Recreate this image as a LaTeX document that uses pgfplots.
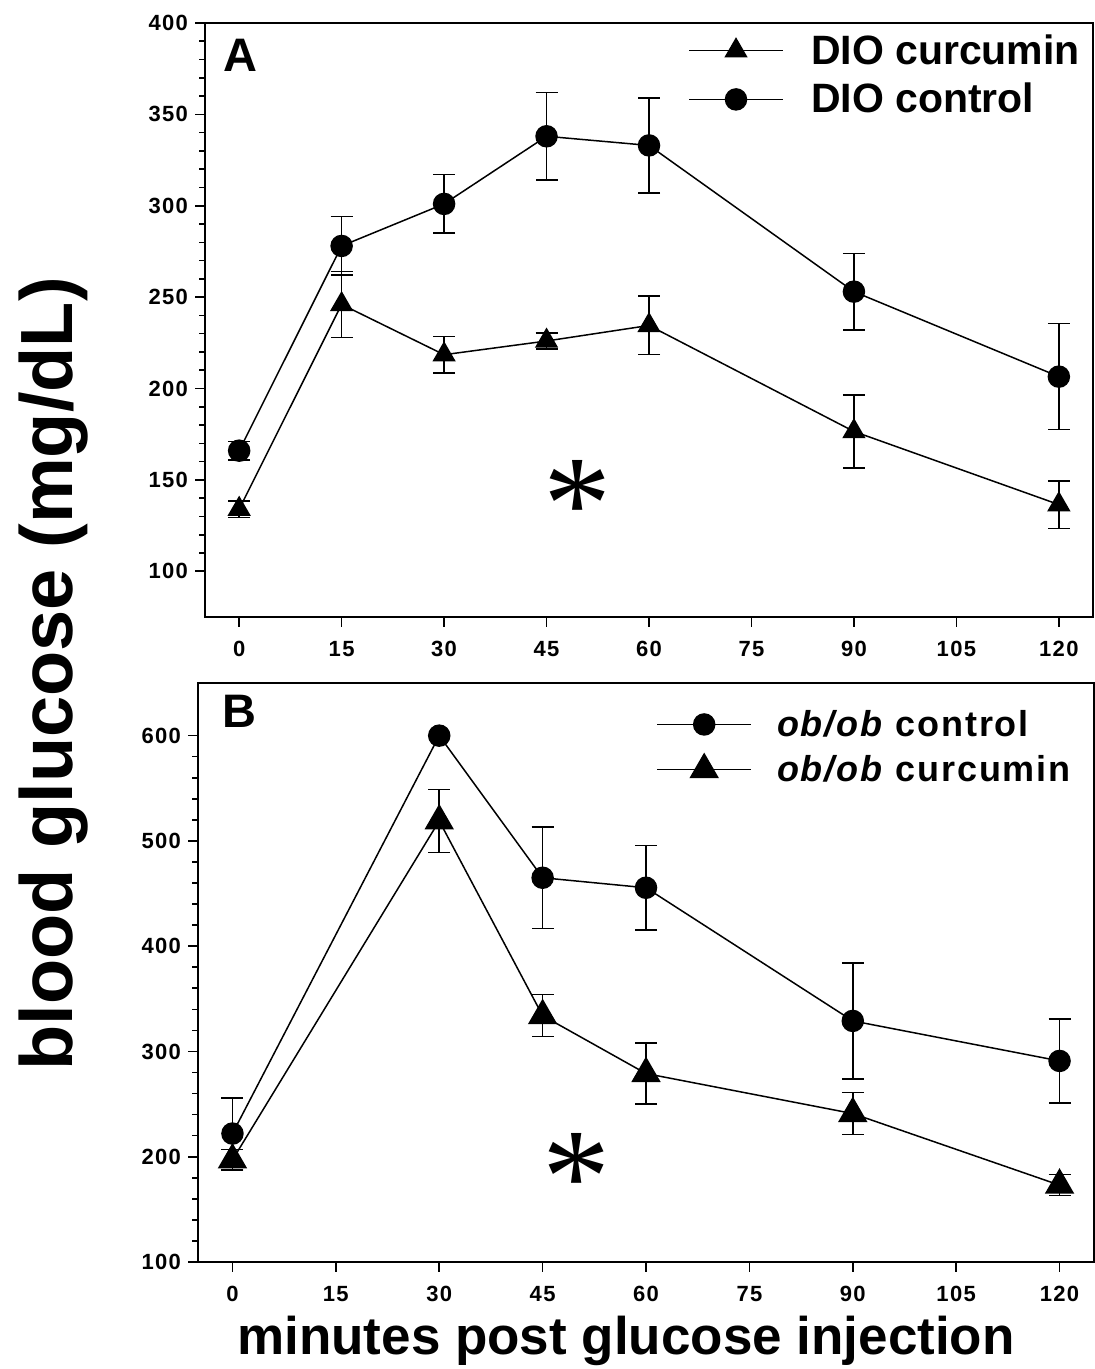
\documentclass[border=0pt]{standalone}
\usepackage{fontspec}
\setmainfont{Liberation Sans}
\newfontfamily\trk[LetterSpace=6]{Liberation Sans}
\newfontfamily\trkb[LetterSpace=5]{Liberation Sans}
\newfontfamily\astfont{Liberation Serif}
\usepackage{pgfplots}
\pgfplotsset{compat=1.18}
\pgfplotsset{
  panel/.style={
    scale only axis,
    axis line style={line width=1pt},
    tick align=outside, xtick pos=bottom, ytick pos=left,
    major tick length=5pt, minor tick length=3pt,
    every tick/.style={line width=0.8pt, black},
    xmin=-5, xmax=125, xtick={0,15,...,120},
    ticklabel style={font=\trk\bfseries\fontsize{11}{13}\selectfont},
    xticklabel style={yshift=-3.5pt},
    /pgf/number format/assume math mode=true,
    legend cell align=left,
    clip=false,
  },
  ser/.style={black, line width=0.75pt, mark options={solid, fill=black},
    error bars/.cd, y dir=both, y explicit,
    error bar style={line width=0.75pt, black},
    error mark options={rotate=90, line width=0.75pt, mark size=5.5pt, black},
    /pgfplots/.cd},
}
\begin{document}
\begin{tikzpicture}
\useasboundingbox (0,0) rectangle (547.5pt,684.5pt);
% Panel A
\begin{axis}[panel, at={(102.5pt,376pt)}, anchor=south west,
  width=444pt, height=297pt,
  ymin=75, ymax=400, ytick={100,150,...,400}, minor y tick num=4,
  legend style={draw=none, fill=none, at={(0.537,0.995)}, anchor=north west,
    font=\bfseries\fontsize{20.5}{24}\selectfont, row sep=4pt},
  legend image code/.code={\path[draw=none, fill=none] (0pt,0pt) -- (59pt,0pt); \draw[mark repeat=2,mark phase=2,#1] plot coordinates {(0pt,0pt) (23.5pt,0pt) (47pt,0pt)};}]
\addplot[mark=triangle*, mark size=6pt, ser] table[x=t, y=m, y error=e] {
t m e
0 134 4.5
15 246 18
30 218.5 10
45 226 4.5
60 234.5 16
90 176.5 20
120 136.5 13
};
\addlegendentry{DIO curcumin}
\addplot[mark=*, mark size=5.25pt, ser] table[x=t, y=m, y error=e] {
t m e
0 166 5
15 278 16
30 301 16
45 338 24
60 333 26
90 253 21
120 206.5 29
};
\addlegendentry{DIO control}
\node[anchor=base west, inner sep=0pt, font=\bfseries\fontsize{23.5}{26}\selectfont] at (rel axis cs:0.0203,0.9175) {A};
\node[font=\astfont\fontsize{68}{68}\selectfont, inner sep=0pt, yshift=-9pt] at (axis cs:49.5,146) {*};
\end{axis}
% Panel B
\begin{axis}[panel, at={(99pt,53.5pt)}, anchor=south west,
  width=448pt, height=289.5pt,
  ymin=100, ymax=650, ytick={100,200,...,600}, minor y tick num=4,
  legend style={draw=none, fill=none, at={(0.5045,0.968)}, anchor=north west,
    font=\trkb\bfseries\fontsize{18}{21}\selectfont, row sep=4pt},
  legend image code/.code={\path[draw=none, fill=none] (0pt,0pt) -- (58pt,0pt); \draw[mark repeat=2,mark phase=2,#1] plot coordinates {(0pt,0pt) (23.5pt,0pt) (47pt,0pt)};}]
\addplot[mark=*, mark size=5.25pt, ser] table[x=t, y=m, y error=e] {
t m e
0 222 34
30 600 0
45 465 48
60 455.5 40
90 329 55
120 291 40
};
\addlegendentry{\textit{ob/ob} control}
\addplot[mark=triangle*, mark size=7.75pt, ser] table[x=t, y=m, y error=e] {
t m e
0 197 10
30 519 30
45 334 20
60 279 29
90 241 20
120 173 10
};
\addlegendentry{\textit{ob/ob} curcumin}
\node[anchor=base west, inner sep=0pt, font=\bfseries\fontsize{23.5}{26}\selectfont] at (rel axis cs:0.027,0.924) {B};
\node[font=\astfont\fontsize{68}{68}\selectfont, inner sep=0pt, yshift=-9pt] at (axis cs:49.9,196.7) {*};
\end{axis}
\node[rotate=90, anchor=base, inner sep=0pt, font=\bfseries\fontsize{37}{40}\selectfont] at (36pt,347.5pt) {blood glucose (mg/dL)};
\node[anchor=base, inner sep=0pt, font=\bfseries\fontsize{26.5}{30}\selectfont] at (313pt,7pt) {minutes post glucose injection};
\end{tikzpicture}
\end{document}
